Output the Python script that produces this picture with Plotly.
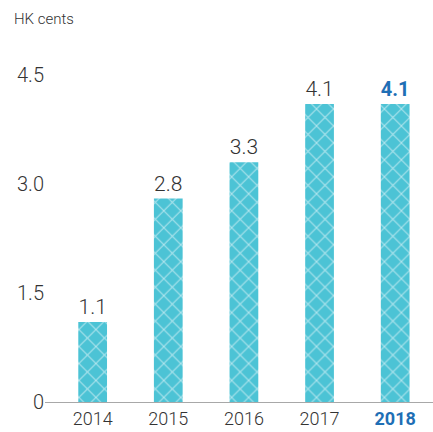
import plotly.graph_objects as go

years = ["2014", "2015", "2016", "2017", "2018"]
values = [1.1, 2.8, 3.3, 4.1, 4.1]
value_labels = ["1.1", "2.8", "3.3", "4.1", "<b>4.1</b>"]
tick_text = ["2014", "2015", "2016", "2017", "<b style='color:#1f6fb5'>2018</b>"]
y_ticks = [0, 1.5, 3.0, 4.5]
y_tick_text = ["0", "1.5", "3.0", "4.5"]

FONT = "Roboto, Arial, sans-serif"
label_colors = ["#333333"] * 4 + ["#1f6fb5"]

fig = go.Figure()
fig.add_trace(go.Bar(
    x=years, y=values,
    width=0.38,
    marker=dict(
        color="#4cc3d5",
        line=dict(width=0),
        pattern=dict(shape="x", fgcolor="#b3e6ee", bgcolor="#4cc3d5",
                     size=12, solidity=0.16, fillmode="replace"),
    ),
    text=value_labels,
    textposition="outside",
    textfont=dict(family=FONT, size=21, color=label_colors, weight=300),
    cliponaxis=False,
    hoverinfo="skip",
))

fig.update_layout(
    width=433, height=432,
    margin=dict(l=45, r=0, t=75, b=30),
    paper_bgcolor="white", plot_bgcolor="white",
    showlegend=False,
    font=dict(family=FONT, color="#333333"),
    xaxis=dict(
        type="category",
        range=[-0.63, 4.5],
        tickvals=years, ticktext=tick_text,
        tickfont=dict(size=18, color="#333333", weight=300),
        showline=True, linecolor="#a8a8a8", linewidth=1,
        showgrid=False, ticks="", zeroline=False,
    ),
    yaxis=dict(
        range=[0, 4.5],
        tickvals=y_ticks, ticktext=y_tick_text,
        tickfont=dict(size=20, color="#333333", weight=300),
        showgrid=False, zeroline=False, showline=False, ticks="",
    ),
    annotations=[dict(
        text="HK cents", xref="paper", yref="paper",
        x=-45/388, y=(432 - 19 - 30) / 327,
        xanchor="left", yanchor="middle", showarrow=False,
        font=dict(family=FONT, size=15, color="#333333", weight=300),
        xshift=12,
    )],
)

fig.write_html("out.html")
